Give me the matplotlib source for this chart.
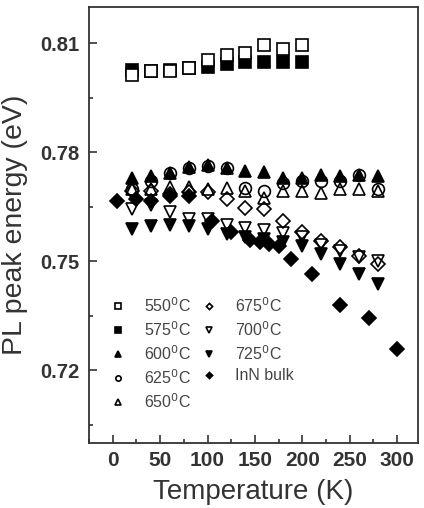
import matplotlib
matplotlib.use("Agg")
import matplotlib.pyplot as plt
from matplotlib.ticker import MultipleLocator

plt.rcParams["font.family"] = ["Liberation Sans", "DejaVu Sans"]

# temperatures (K)
T10 = [20, 40, 60, 80, 100, 120, 140, 160, 180, 200]
T14 = [20, 40, 60, 80, 100, 120, 140, 160, 180, 200, 220, 240, 260, 280]
T_bulk = [5, 25, 40, 60, 80, 105, 125, 145, 155, 165, 175, 188, 210, 240, 270, 300]

# PL peak energies (eV)
e550 = [0.8012, 0.8023, 0.8023, 0.8032, 0.8055, 0.8067, 0.8075, 0.8097, 0.8086, 0.8097]
e575 = [0.8028, 0.8023, 0.8028, 0.8032, 0.8035, 0.8044, 0.8049, 0.8049, 0.8049, 0.8049]
e600 = [0.7730, 0.7736, 0.7744, 0.7760, 0.7766, 0.7757, 0.7748, 0.7746, 0.7730, 0.7730,
        0.7739, 0.7734, 0.7739, 0.7734]
e625 = [0.7698, 0.7721, 0.7744, 0.7757, 0.7762, 0.7757, 0.7703, 0.7693, 0.7716, 0.7721,
        0.7721, 0.7721, 0.7739, 0.7698]
e650 = [0.7700, 0.7700, 0.7705, 0.7705, 0.7700, 0.7702, 0.7693, 0.7675, 0.7693, 0.7693,
        0.7689, 0.7698, 0.7698, 0.7693]
e675 = [0.7695, 0.7693, 0.7685, 0.7690, 0.7690, 0.7671, 0.7648, 0.7643, 0.7611, 0.7580,
        0.7557, 0.7539, 0.7516, 0.7493]
e700 = [0.7645, 0.7655, 0.7635, 0.7618, 0.7616, 0.7600, 0.7593, 0.7586, 0.7577, 0.7568,
        0.7545, 0.7528, 0.7511, 0.7500]
e725 = [0.7589, 0.7596, 0.7600, 0.7596, 0.7589, 0.7575, 0.7568, 0.7561, 0.7552, 0.7543,
        0.7520, 0.7493, 0.7466, 0.7438]
e_bulk = [0.7665, 0.7671, 0.7666, 0.7680, 0.7680, 0.7610, 0.7580, 0.7560, 0.7552, 0.7548,
          0.7542, 0.7507, 0.7466, 0.7379, 0.7345, 0.7258]

labels = ["550$^0$C", "575$^0$C", "600$^0$C", "625$^0$C", "650$^0$C",
          "675$^0$C", "700$^0$C", "725$^0$C", "InN bulk"]

fig = plt.figure(figsize=(4.24, 5.08), dpi=100)
ax = fig.add_axes([0.21, 0.128, 0.776, 0.858])

ms = 8.5
mew = 1.2
k = "black"

# (x, y, marker, filled, zorder, label)
series = [
    (T10, e575, "s", True, 2, labels[1]),
    (T10, e550, "s", False, 3, labels[0]),
    (T14, e600, "^", True, 2, labels[2]),
    (T14, e625, "o", False, 3, labels[3]),
    (T14, e650, "^", False, 3, labels[4]),
    (T14, e675, "D", False, 3, labels[5]),
    (T14, e700, "v", False, 3, labels[6]),
    (T14, e725, "v", True, 2, labels[7]),
    (T_bulk, e_bulk, "D", True, 2, labels[8]),
]
handles = {}
for x, y, m, filled, z, name in series:
    size = ms - 1.5 if m == "D" else ms
    if filled:
        face = k
    else:
        face = "white" if m == "s" else "none"
    h, = ax.plot(x, y, ls="none", marker=m, ms=size, mfc=face, mec=k, mew=mew,
                 zorder=z, label=name)
    handles[name] = h

leg = ax.legend([handles[l] for l in labels], labels, ncol=2, loc="upper left",
                bbox_to_anchor=(0.035, 0.362), frameon=False, fontsize=11.5,
                markerscale=0.45, handlelength=0.8, handletextpad=1.2,
                columnspacing=0.75, labelspacing=0.33, borderpad=0.2)
for t in leg.get_texts():
    t.set_color("#444444")

ax.set_xlim(-25, 322)
ax.set_ylim(0.70, 0.82)
ax.xaxis.set_major_locator(MultipleLocator(50))
ax.xaxis.set_minor_locator(MultipleLocator(25))
ax.yaxis.set_minor_locator(MultipleLocator(0.015))
ax.set_yticks([0.72, 0.75, 0.78, 0.81])
ax.set_yticklabels(["0.72", "0.75", "0.78", "0.81"])

ax.tick_params(which="both", direction="in", top=False, right=False,
               colors="#333333", width=1.2)
ax.tick_params(which="major", length=6)
ax.tick_params(axis="x", which="major", labelsize=15, pad=6)
ax.tick_params(axis="y", which="major", labelsize=14.5, pad=7)
ax.tick_params(which="minor", length=3)
for lab in ax.get_xticklabels() + ax.get_yticklabels():
    lab.set_fontweight("bold")
for s in ax.spines.values():
    s.set_linewidth(1.3)
    s.set_color("#333333")

ax.set_xlabel("Temperature (K)", fontsize=20, color="#333333", va="center")
ax.set_ylabel("PL peak energy (eV)", fontsize=20.5, color="#333333", va="center")
ax.xaxis.set_label_coords(0.5, -0.112)
ax.yaxis.set_label_coords(-0.226, 0.5)

fig.savefig("out.png", dpi=100)
